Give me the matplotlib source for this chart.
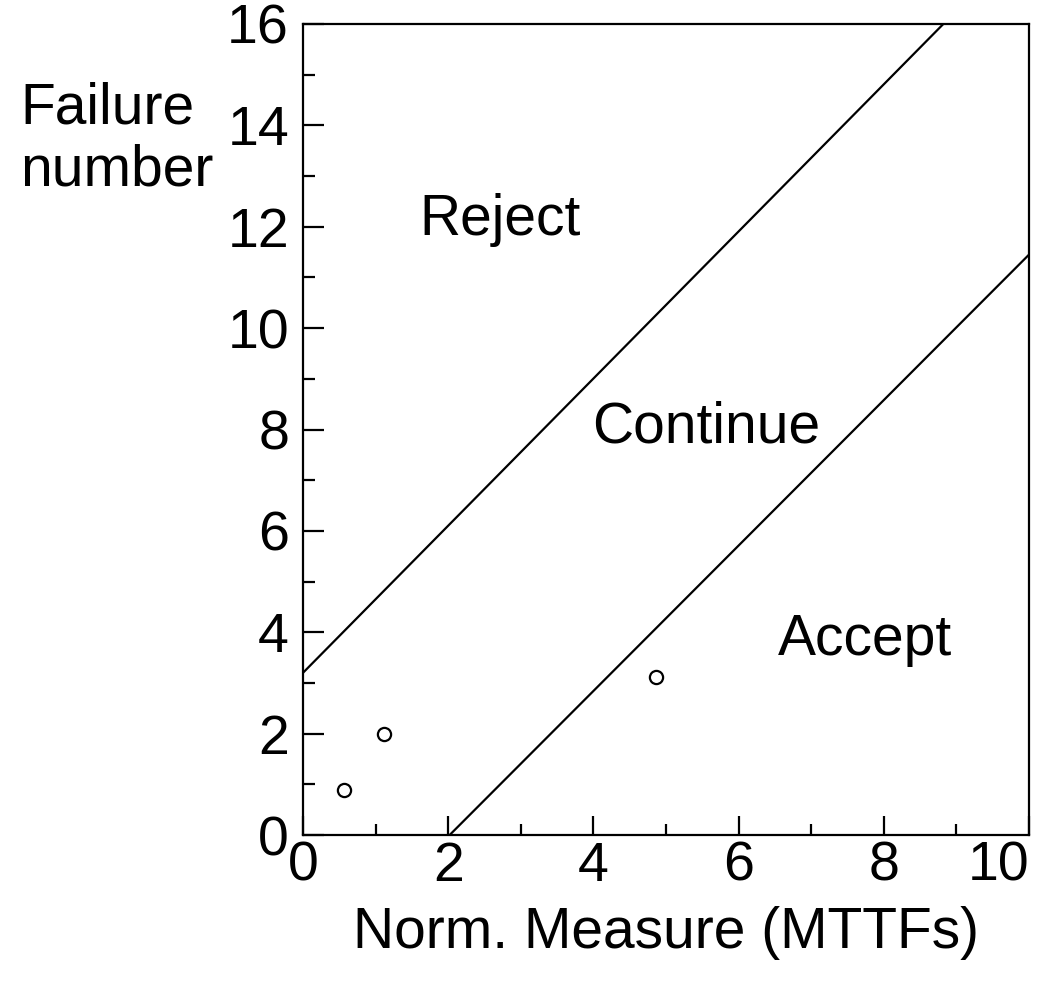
import matplotlib
matplotlib.use("Agg")
import matplotlib.pyplot as plt
from matplotlib.ticker import MultipleLocator

plt.rcParams['font.family'] = ['Liberation Sans', 'DejaVu Sans']

# Data
reject_x = [0.0, 8.82]
reject_y = [3.2, 16.0]
accept_x = [2.02, 10.0]
accept_y = [0.0, 11.45]
obs_x = [0.565, 1.12, 4.86]
obs_y = [0.89, 1.99, 3.11]
region_labels = ["Reject", "Continue", "Accept"]
region_x = [2.71, 5.56, 7.74]
region_y = [12.13, 8.03, 3.85]
x_ticks = [0, 2, 4, 6, 8, 10]
y_ticks = [0, 2, 4, 6, 8, 10, 12, 14, 16]

fig = plt.figure(figsize=(10.49, 9.82), dpi=100)
ax = fig.add_axes([303/1049, 1-835/982, (1029-303)/1049, (835-24)/982])

ax.plot(reject_x, reject_y, color='black', lw=1.6, solid_capstyle='butt')
ax.plot(accept_x, accept_y, color='black', lw=1.6, solid_capstyle='butt')
ax.plot(obs_x, obs_y, 'o', mfc='white', mec='black', ms=9.5, mew=1.6, ls='none')

for t, x, y in zip(region_labels, region_x, region_y):
    ax.text(x, y, t, fontsize=41, ha='center', va='center')

ax.set_xlim(0, 10)
ax.set_ylim(0, 16)
ax.set_xticks(x_ticks)
ax.set_yticks(y_ticks)
ax.xaxis.set_minor_locator(MultipleLocator(1))
ax.yaxis.set_minor_locator(MultipleLocator(1))
ax.tick_params(which='both', direction='in', top=False, right=False, width=1.6, labelsize=40)
ax.tick_params(axis='y', which='major', length=15, pad=10)
ax.tick_params(axis='y', which='minor', length=8.5)
ax.tick_params(axis='x', which='major', length=14, pad=4)
ax.tick_params(axis='x', which='minor', length=8)
for s in ax.spines.values():
    s.set_linewidth(1.6)

xl = ax.get_xticklabels()
xl[-1].set_horizontalalignment('right')

ax.set_xlabel("Norm. Measure (MTTFs)", fontsize=41, labelpad=10)
fig.text(20/1049, 1-108/982, "Failure", fontsize=41, ha='left', va='center')
fig.text(20/1049, 1-170/982, "number", fontsize=41, ha='left', va='center')

fig.savefig("out.png", dpi=100)
